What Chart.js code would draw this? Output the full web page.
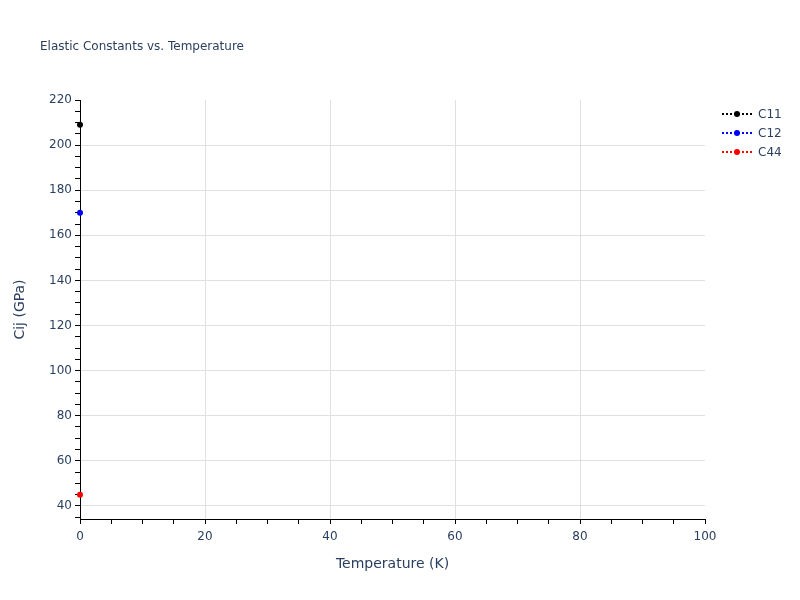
<!DOCTYPE html>
<html>
<head>
<meta charset="utf-8">
<script src="https://cdn.jsdelivr.net/npm/chart.js@4"></script>
<style>
  html, body { margin: 0; padding: 0; background: #fff; }
  #wrap { width: 800px; height: 600px; position: relative; }
</style>
</head>
<body>
<div id="wrap"><canvas id="myChart" width="800" height="600"></canvas></div>
<script>
// data
const temperatures = [0];
const c11 = [209];
const c12 = [170];
const c44 = [45];
const seriesNames = ['C11', 'C12', 'C44'];
const seriesColors = ['#000000', '#0000ff', '#ff0000'];
const xTicks = [0, 20, 40, 60, 80, 100];
const yTicks = [40, 60, 80, 100, 120, 140, 160, 180, 200, 220];

const FONT = '"DejaVu Sans", Verdana, sans-serif';
const TEXT = '#2a3f5f';

// every 5 units gets a tick mark, only the labelled ones get text and grid
function minorTicks(min, max) {
  const out = [];
  for (let v = Math.ceil(min / 5) * 5; v <= max; v += 5) out.push({ value: v });
  return out;
}

const toPoints = (ys) => temperatures.map((t, i) => ({ x: t, y: ys[i] }));

const decor = {
  id: 'decor',
  afterDraw(chart) {
    const ctx = chart.ctx;
    const area = chart.chartArea;
    ctx.save();
    ctx.fillStyle = TEXT;
    ctx.font = '12px ' + FONT;
    ctx.textBaseline = 'middle';
    ctx.textAlign = 'left';
    ctx.fillText('Elastic Constants vs. Temperature', 40, 47);

    ctx.font = '14px ' + FONT;
    ctx.textAlign = 'center';
    ctx.fillText('Temperature (K)', (area.left + area.right) / 2, 564);
    ctx.translate(20, (area.top + area.bottom) / 2);
    ctx.rotate(-Math.PI / 2);
    ctx.fillText('Cij (GPa)', 0, 0);
    ctx.restore();

    // legend
    ctx.save();
    seriesNames.forEach((name, i) => {
      const y = 114 + i * 19;
      ctx.strokeStyle = seriesColors[i];
      ctx.lineWidth = 2;
      ctx.setLineDash([2, 2]);
      ctx.beginPath();
      ctx.moveTo(722, y);
      ctx.lineTo(752, y);
      ctx.stroke();
      ctx.setLineDash([]);
      ctx.fillStyle = seriesColors[i];
      ctx.beginPath();
      ctx.arc(737, y, 3, 0, Math.PI * 2);
      ctx.fill();
      ctx.fillStyle = TEXT;
      ctx.font = '12px ' + FONT;
      ctx.textAlign = 'left';
      ctx.textBaseline = 'middle';
      ctx.fillText(name, 758, y + 1);
    });
    ctx.restore();
  }
};

new Chart(document.getElementById('myChart'), {
  type: 'line',
  data: {
    datasets: [c11, c12, c44].map((ys, i) => ({
      label: seriesNames[i],
      data: toPoints(ys),
      borderColor: seriesColors[i],
      backgroundColor: seriesColors[i],
      borderWidth: 2,
      borderDash: [2, 2],
      pointRadius: 3,
      pointHoverRadius: 3,
      pointBorderWidth: 0,
      showLine: true,
      clip: false
    }))
  },
  options: {
    responsive: false,
    animation: false,
    events: [],
    layout: { padding: { top: 100, right: 95, left: 0, bottom: 0 } },
    plugins: { legend: { display: false }, tooltip: { enabled: false } },
    scales: {
      x: {
        type: 'linear',
        min: 0,
        max: 100,
        afterBuildTicks: (s) => { s.ticks = minorTicks(s.min, s.max); },
        afterFit: (s) => { s.height = 81; },
        border: { display: true, color: '#000', width: 1 },
        grid: {
          drawTicks: true,
          tickLength: 5,
          tickColor: '#000',
          color: (c) => (c.tick && c.tick.value % 20 === 0 && c.tick.value > 0 && c.tick.value < 100) ? '#e0e0e0' : 'rgba(0,0,0,0)',
          lineWidth: 1
        },
        ticks: {
          autoSkip: false,
          maxRotation: 0,
          padding: 6,
          color: TEXT,
          font: { family: FONT, size: 12 },
          callback: (v) => (xTicks.includes(v) ? String(v) : '')
        }
      },
      y: {
        type: 'linear',
        min: 34.2,
        max: 220,
        afterBuildTicks: (s) => { s.ticks = minorTicks(s.min, s.max); },
        afterFit: (s) => { s.width = 80; },
        border: { display: true, color: '#000', width: 1 },
        grid: {
          drawTicks: true,
          tickLength: 5,
          tickColor: '#000',
          color: (c) => (c.tick && c.tick.value % 20 === 0 && c.tick.value < 220) ? '#e0e0e0' : 'rgba(0,0,0,0)',
          lineWidth: 1
        },
        ticks: {
          autoSkip: false,
          padding: 3,
          color: TEXT,
          font: { family: FONT, size: 12 },
          callback: (v) => (yTicks.includes(v) ? String(v) : '')
        }
      }
    }
  },
  plugins: [decor]
});
</script>
</body>
</html>
